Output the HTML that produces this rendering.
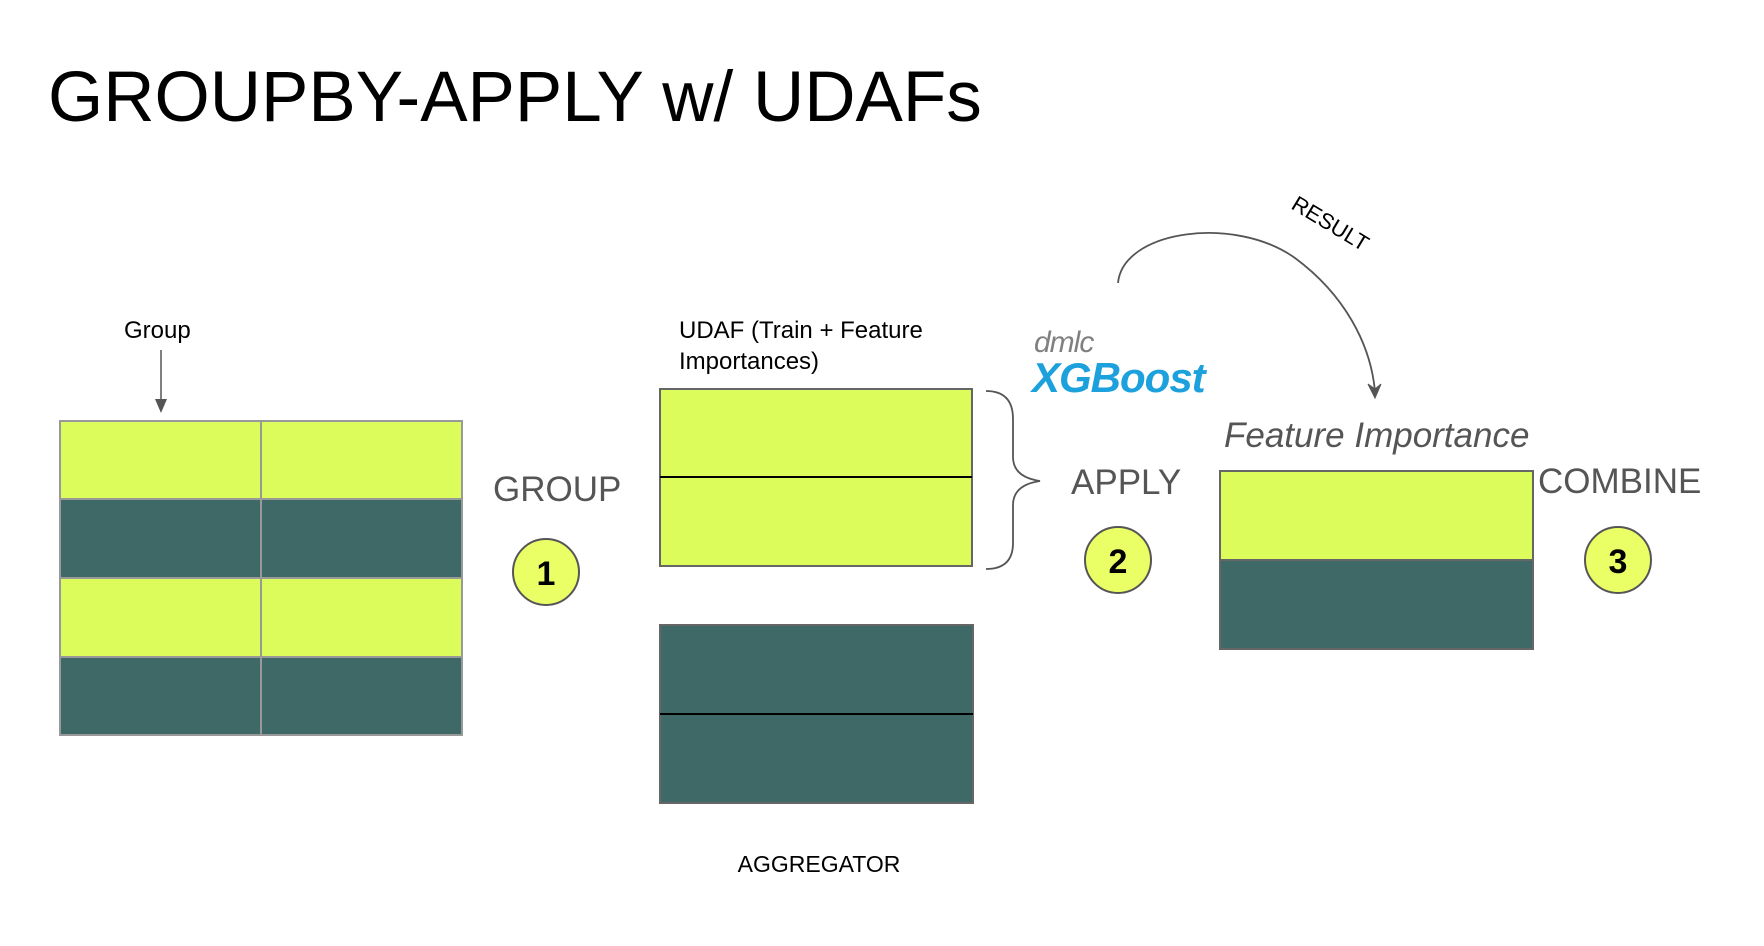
<!DOCTYPE html>
<html><head><meta charset="utf-8"><style>
html,body{margin:0;padding:0;background:#fff;}
svg{display:block;}
text{font-family:"Liberation Sans",Arial,sans-serif;}
</style></head><body>
<svg width="1764" height="946" viewBox="0 0 1764 946" xmlns="http://www.w3.org/2000/svg">
<text x="48" y="121" font-size="71" fill="#000">GROUPBY-APPLY w/ UDAFs</text>

<text x="124" y="338" font-size="24" fill="#000">Group</text>
<line x1="161" y1="350" x2="161" y2="403" stroke="#555" stroke-width="1.5"/>
<path d="M155,399 L161,413 L167,399 Z" fill="#555"/>

<g stroke="#999" stroke-width="2">
<rect x="60" y="421" width="402" height="78" fill="#dcfc5c"/>
<rect x="60" y="499" width="402" height="79" fill="#3f6967"/>
<rect x="60" y="578" width="402" height="79" fill="#dcfc5c"/>
<rect x="60" y="657" width="402" height="78" fill="#3f6967"/>
<line x1="261" y1="421" x2="261" y2="735"/>
</g>

<text x="493" y="501" font-size="35" fill="#555">GROUP</text>
<circle cx="546" cy="572" r="33" fill="#eaff66" stroke="#555" stroke-width="2"/>
<text x="546" y="585" font-size="34" font-weight="bold" text-anchor="middle" fill="#000">1</text>

<text x="679" y="338" font-size="24" fill="#000">UDAF (Train + Feature</text>
<text x="679" y="369" font-size="24" fill="#000">Importances)</text>
<rect x="660" y="389" width="312" height="177" fill="#dcfc5c" stroke="#666" stroke-width="2"/>
<line x1="660" y1="477" x2="972" y2="477" stroke="#000" stroke-width="2"/>
<rect x="660" y="625" width="313" height="178" fill="#3f6967" stroke="#666" stroke-width="2"/>
<line x1="660" y1="714" x2="973" y2="714" stroke="#000" stroke-width="2"/>
<text x="819" y="872" font-size="23" text-anchor="middle" fill="#000">AGGREGATOR</text>

<path d="M986,391 Q1013,391 1013,419 L1013,457 Q1013,477 1040,481 Q1013,485 1013,505 L1013,543 Q1013,569 986,569" fill="none" stroke="#555" stroke-width="1.8"/>

<text x="1034" y="352" font-size="30" font-style="italic" fill="#808080" letter-spacing="-1">dmlc</text>
<text x="1032" y="392" font-size="42" font-weight="bold" font-style="italic" fill="#1da1dd" letter-spacing="-1">XGBoost</text>

<text x="1071" y="494" font-size="35" fill="#555">APPLY</text>
<circle cx="1118" cy="560" r="33" fill="#eaff66" stroke="#555" stroke-width="2"/>
<text x="1118" y="573" font-size="34" font-weight="bold" text-anchor="middle" fill="#000">2</text>

<path d="M1118,283 C1123,230 1235,215 1295,258 C1345,295 1371,345 1375,392" fill="none" stroke="#555" stroke-width="1.8"/>
<path d="M1368,384 L1375,398 L1381,384 L1375,389 Z" fill="#555" stroke="#555" stroke-width="1"/>
<text x="0" y="0" font-size="22" fill="#000" transform="translate(1290,208) rotate(31)">RESULT</text>

<text x="1224" y="447" font-size="35" font-style="italic" fill="#555">Feature Importance</text>
<rect x="1220" y="471" width="313" height="89" fill="#dcfc5c" stroke="#666" stroke-width="2"/>
<rect x="1220" y="560" width="313" height="89" fill="#3f6967" stroke="#666" stroke-width="2"/>

<text x="1538" y="493" font-size="35" fill="#555">COMBINE</text>
<circle cx="1618" cy="560" r="33" fill="#eaff66" stroke="#555" stroke-width="2"/>
<text x="1618" y="573" font-size="34" font-weight="bold" text-anchor="middle" fill="#000">3</text>
</svg>
</body></html>
